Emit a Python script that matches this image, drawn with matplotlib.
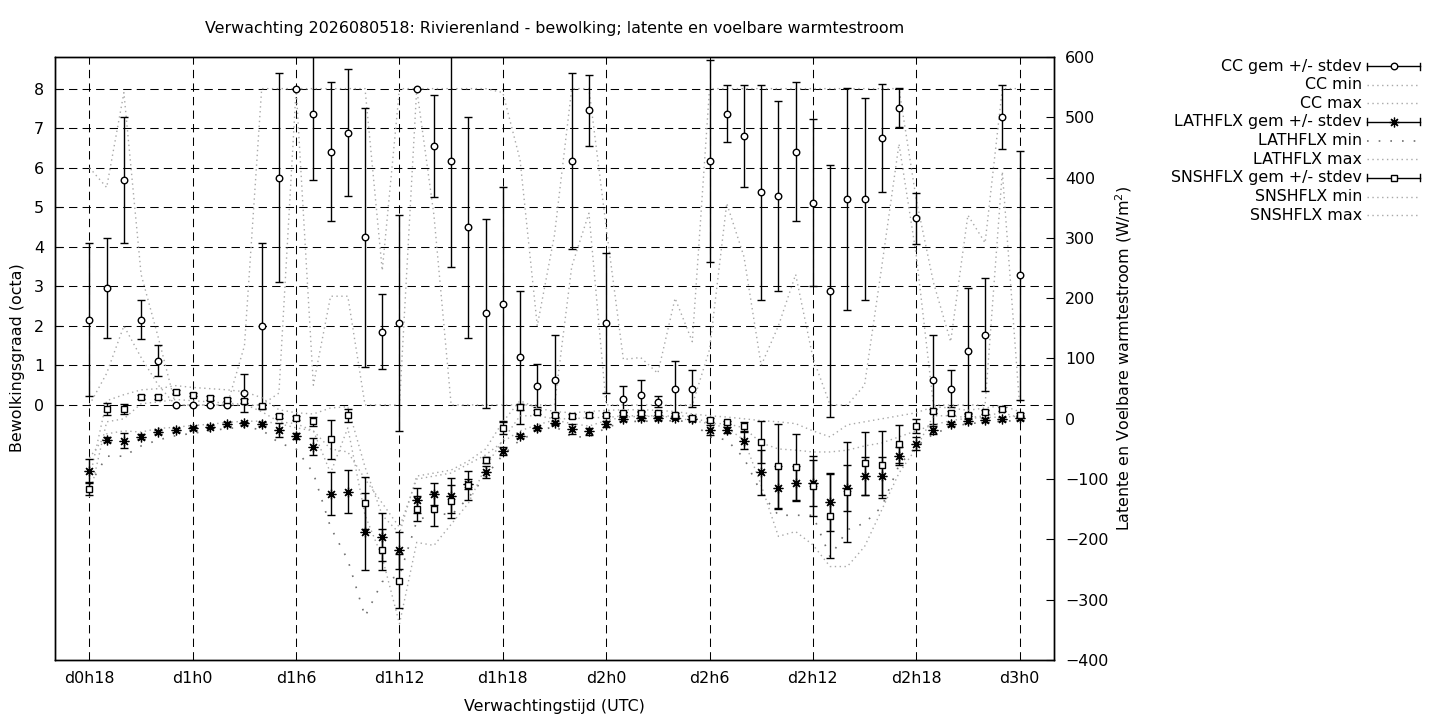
import matplotlib
matplotlib.use('Agg')
import matplotlib.pyplot as plt
from matplotlib.lines import Line2D

# forecast hour (from d0h0), one value per hour d0h18 .. d3h0
hours = list(range(18, 73))

cc_mean = [2.16, 2.96, 5.69, 2.16, 1.12, 0.0, 0.0, 0.0, 0.0, 0.30,
           2.00, 5.75, 8.00, 7.37, 6.41, 6.89, 4.24, 1.85, 2.07, 8.00,
           6.56, 6.17, 4.49, 2.32, 2.55, 1.21, 0.49, 0.64, 6.17, 7.45,
           2.07, 0.16, 0.24, 0.08, 0.41, 0.41, 6.17, 7.37, 6.81, 5.38,
           5.28, 6.41, 5.12, 2.89, 5.21, 5.21, 6.75, 7.52, 4.72, 0.64,
           0.41, 1.37, 1.78, 7.28, 3.28]
cc_sd = [1.93, 1.27, 1.60, 0.50, 0.40, 0.0, 0.0, 0.0, 0.0, 0.48,
         2.09, 2.64, 0.0, 1.68, 1.77, 1.60, 3.28, 0.95, 2.73, 0.0,
         1.29, 2.67, 2.80, 2.39, 2.97, 1.68, 0.55, 1.13, 2.23, 0.89,
         1.78, 0.33, 0.39, 0.14, 0.69, 0.47, 2.56, 0.73, 1.29, 2.72,
         2.40, 1.77, 2.10, 3.19, 2.80, 2.55, 1.36, 0.49, 0.65, 1.13,
         0.47, 1.59, 1.43, 0.80, 3.15]
cc_min = [0.0, 0.8, 2.0, 1.2, 0.5, 0.0, 0.0, 0.0, 0.0, 0.0,
          0.0, 0.3, 8.0, 0.5, 2.75, 2.75, 0.0, 0.0, 0.0, 8.0,
          4.8, 0.0, 0.0, 0.0, 0.0, 0.0, 0.0, 0.0, 3.5, 4.85,
          0.0, 0.0, 0.0, 0.0, 0.0, 0.0, 1.4, 5.1, 3.75, 1.0,
          2.0, 3.3, 1.2, 0.0, 0.0, 0.5, 3.5, 6.6, 3.8, 0.0,
          0.0, 0.0, 0.0, 5.9, 0.0]
cc_max = [6.0, 5.5, 7.9, 3.3, 1.7, 0.0, 0.0, 0.0, 0.0, 1.5,
          8.0, 8.0, 8.0, 8.0, 8.0, 8.0, 8.0, 3.4, 8.0, 8.0,
          8.0, 8.0, 8.0, 8.0, 7.9, 6.2, 2.0, 4.3, 8.0, 8.0,
          4.5, 1.15, 1.2, 0.8, 2.7, 1.6, 8.0, 8.0, 8.0, 8.0,
          8.0, 8.0, 8.0, 8.0, 8.0, 8.0, 8.0, 8.0, 5.2, 3.1,
          1.6, 4.8, 4.1, 8.0, 8.0]

lath_mean = [-87, -35, -36, -30, -22, -19, -16, -13, -9, -7.5,
             -8.6, -18.6, -28.5, -46, -124, -121, -187, -196, -218, -135,
             -125, -128, -108, -88, -53, -28.5, -16, -7, -17, -21,
             -8.6, -0.3, 0.8, 0.8, 1.9, 0.0, -18.6, -18.6, -36, -89,
             -114, -107, -106, -138, -115, -95, -95, -62, -41, -18.6,
             -8.6, -3.6, -2.0, -0.3, 0.8]
lath_sd = [20, 4, 13, 4, 3, 3, 3, 3, 3, 3,
           3, 11, 5, 14, 36, 36, 64, 40, 31, 21,
           18, 29, 8, 10, 7, 4, 3, 3, 8, 6,
           5, 3, 3, 3, 3, 3, 8, 5, 14, 37,
           35, 29, 38, 48, 38, 32, 31, 15, 10, 6,
           4, 3, 3, 3, 3]
lath_min = [-110, -62, -62, -45, -35, -28, -24, -20, -16, -14,
            -18, -40, -50, -90, -180, -234, -328, -270, -260, -170,
            -155, -160, -131, -95, -60, -35, -22, -12, -30, -30,
            -15, -5, -4, -4, -3, -5, -30, -35, -65, -123,
            -160, -160, -160, -229, -184, -173, -146, -77, -46, -25,
            -14, -8, -6, -4, -3]
lath_max = [-65, -25, -20, -22, -16, -14, -11, -9, -6, -4,
            -4, -8, -15, -20, -50, -55, -100, -140, -180, -100,
            -95, -90, -75, -60, -38, -20, -10, -2, -8, -12,
            -3, 3, 4, 4, 5, 4, -8, -8, -15, -40,
            -50, -52, -55, -55, -52, -45, -40, -30, -20, -10,
            -3, 1, 2, 3, 4]

snsh_mean = [-116, 17, 16, 36, 36, 44, 40, 34, 32, 30,
             21, 5, 1, -4, -34, 6, -140, -217, -269, -149,
             -150, -137, -110, -68, -15, 19, 11, 6, 5, 6,
             7, 9, 9, 9, 6, 1, -2.5, -6, -12.5, -38.5,
             -78, -80, -111, -161, -122, -74, -76, -42, -12, 13,
             10, 7, 11, 16, 7]
snsh_sd = [11, 10, 8, 3, 3, 3, 3, 3, 3, 3,
           3, 3, 3, 7.5, 32, 11, 43, 34, 44, 21,
           28, 28, 24, 5, 11, 5, 3, 3, 3, 3,
           3, 3, 3, 3, 3, 3, 3, 3, 8, 35,
           70, 55, 50, 70, 83, 52, 56, 32, 12, 3,
           3, 3, 3, 3, 3]
snsh_min = [-130, -5, 0, 25, 28, 32, 30, 28, 26, 24,
            12, -5, -8, -20, -90, -15, -160, -230, -340, -205,
            -210, -175, -140, -80, -35, 5, 5, 0, 0, 2,
            2, 5, 5, 5, 2, -3, -8, -15, -35, -110,
            -195, -187, -209, -245, -245, -212, -151, -90, -49, 5,
            5, 2, 5, 10, 2]
snsh_max = [-100, 30, 40, 48, 50, 55, 52, 50, 48, 45,
            35, 15, 10, 8, 18, 20, -80, -160, -190, -95,
            -90, -85, -70, -50, -5, 30, 18, 12, 10, 12,
            14, 15, 15, 14, 12, 8, 5, 3, 0, -3,
            -5, -8, -20, -30, -10, -5, 0, 5, 10, 20,
            18, 14, 18, 22, 12]

tick_hours = [18, 24, 30, 36, 42, 48, 54, 60, 66, 72]
tick_labels = ['d0h18', 'd1h0', 'd1h6', 'd1h12', 'd1h18',
               'd2h0', 'd2h6', 'd2h12', 'd2h18', 'd3h0']

W, H = 1440, 720
FS = 11.4
light = '#a8a8a8'
mid = '#707070'
dense = (0, (1, 2.5))
sparse = (0, (1, 6))
star = (8, 2, 0)

fig = plt.figure(figsize=(W / 100, H / 100), dpi=100)
L, R, T, B = 55, 1054, 57, 660
ax = fig.add_axes([L / W, 1 - B / H, (R - L) / W, (B - T) / H])
ax2 = ax.twinx()

# bewolking (linker as)
ax.plot(hours, cc_min, color=light, ls=dense, lw=1)
ax.plot(hours, cc_max, color=light, ls=dense, lw=1)
ax.errorbar(hours, cc_mean, yerr=cc_sd, fmt='o', ms=4.7, mfc='white', mec='black',
            mew=1, ecolor='black', elinewidth=1, capsize=2.7, capthick=1)

# warmtestromen (rechter as)
ax2.plot(hours, lath_min, color=mid, ls=sparse, lw=1.2)
ax2.plot(hours, lath_max, color=light, ls=dense, lw=1)
ax2.plot(hours, snsh_min, color=light, ls=dense, lw=1)
ax2.plot(hours, snsh_max, color=light, ls=dense, lw=1)
ax2.errorbar(hours, lath_mean, yerr=lath_sd, fmt='none', ecolor='black',
             elinewidth=1, capsize=2.7, capthick=1)
ax2.plot(hours, lath_mean, ls='none', marker=star, ms=7, mec='black', mew=0.9)
ax2.errorbar(hours, snsh_mean, yerr=snsh_sd, fmt='s', ms=4.7, mfc='white', mec='black',
             mew=1, ecolor='black', elinewidth=1, capsize=2.7, capthick=1)

ax.set_xlim(16, 74)
ax.set_ylim(-6.45, 8.8)
ax2.set_ylim(-400, 600)
ax.set_xticks(tick_hours)
ax.set_xticklabels(tick_labels)
ax.set_yticks(range(0, 9))
ax2.set_yticks(range(-400, 601, 100))

ax.grid(True, color='black', ls=(0, (8, 5)), lw=0.75)
ax.tick_params(axis='x', direction='in', length=0, pad=8, labelsize=FS)
ax.tick_params(axis='y', direction='in', length=6, width=0.8, pad=8, labelsize=FS)
ax2.tick_params(axis='y', direction='in', length=6, width=0.8, pad=8, labelsize=FS)
for a in (ax, ax2):
    for s in a.spines.values():
        s.set_linewidth(1)
        s.set_color('black')

fig.text((L + R) / 2 / W, 1 - 29 / H,
         'Verwachting 2026080518: Rivierenland - bewolking; latente en voelbare warmtestroom',
         ha='center', va='center', fontsize=FS)
fig.text((L + R) / 2 / W, 1 - 707 / H, 'Verwachtingstijd (UTC)',
         ha='center', va='center', fontsize=FS)
fig.text(18 / W, 1 - 358 / H, 'Bewolkingsgraad (octa)', rotation=90,
         ha='center', va='center', fontsize=FS)
fig.text(1124 / W, 1 - 358 / H, 'Latente en Voelbare warmtestroom (W/m$^2$)', rotation=90,
         ha='center', va='center', fontsize=FS)

# legenda, gnuplot-stijl: tekst rechts uitgelijnd, symbool rechts ervan
entries = [
    ('CC gem +/- stdev', 'err', 'o'),
    ('CC min', 'line', 'cc'),
    ('CC max', 'line', 'cc'),
    ('LATHFLX gem +/- stdev', 'err', star),
    ('LATHFLX min', 'line', 'lmin'),
    ('LATHFLX max', 'line', 'cc'),
    ('SNSHFLX gem +/- stdev', 'err', 's'),
    ('SNSHFLX min', 'line', 'cc'),
    ('SNSHFLX max', 'line', 'cc'),
]
x_txt, x0, x1 = 1362, 1367, 1420
for i, (label, kind, sty) in enumerate(entries):
    yp = 66 + i * 18.65
    yf = 1 - yp / H
    fig.text(x_txt / W, yf, label, ha='right', va='center', fontsize=FS)
    if kind == 'err':
        fig.add_artist(Line2D([x0 / W, x1 / W], [yf, yf], color='black', lw=1))
        for xc in (x0, x1):
            fig.add_artist(Line2D([xc / W, xc / W], [yf - 3.5 / H, yf + 3.5 / H],
                                  color='black', lw=1))
        if sty == star:
            fig.add_artist(Line2D([(x0 + x1) / 2 / W], [yf], marker=sty, ms=7,
                                  mec='black', mew=0.9, ls='none'))
        else:
            fig.add_artist(Line2D([(x0 + x1) / 2 / W], [yf], marker=sty, ms=4.7,
                                  mfc='white', mec='black', mew=1, ls='none'))
    else:
        if sty == 'lmin':
            fig.add_artist(Line2D([x0 / W, x1 / W], [yf, yf], color=mid, ls=sparse, lw=1.2))
        else:
            fig.add_artist(Line2D([x0 / W, x1 / W], [yf, yf], color=light, ls=dense, lw=1))

fig.savefig('out.png', dpi=100)
